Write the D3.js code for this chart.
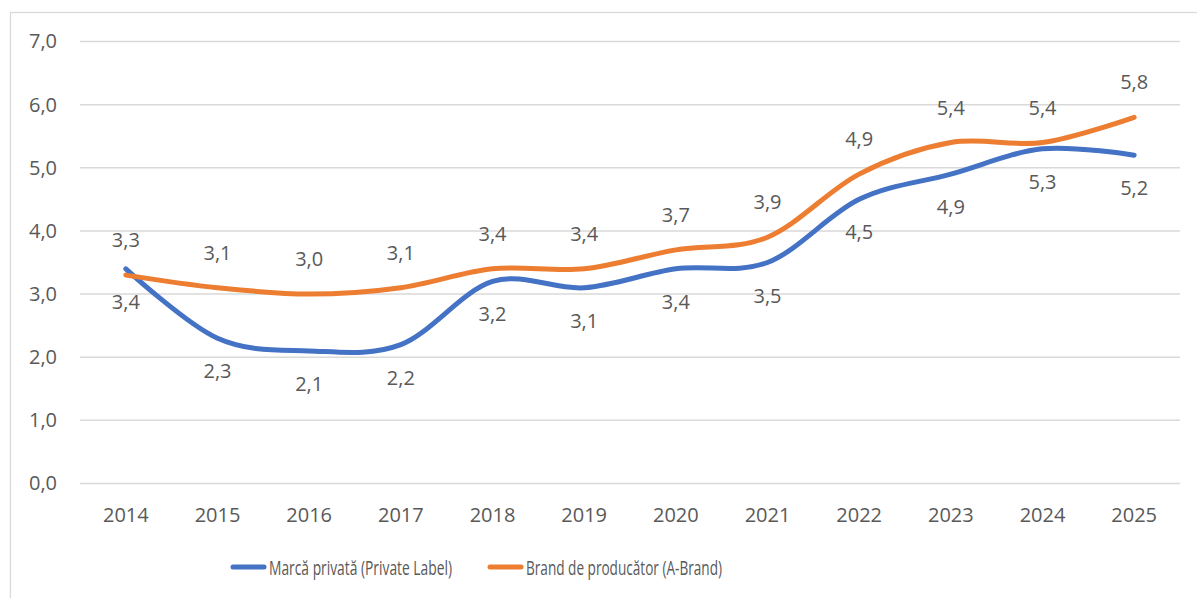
<!DOCTYPE html>
<html>
<head>
<meta charset="utf-8">
<script src="https://cdn.jsdelivr.net/npm/d3@7"></script>
<style>
  html, body { margin: 0; padding: 0; background: #fff; }
  svg { display: block; }
  text { font-family: "Open Sans", "Liberation Sans", sans-serif; fill: #595959; }
</style>
</head>
<body>
<svg id="chart" width="1197" height="598"></svg>
<script>
// Years on the category axis
const years = ["2014","2015","2016","2017","2018","2019","2020","2021","2022","2023","2024","2025"];
// Private label values
const privateLabel = [3.4, 2.3, 2.1, 2.2, 3.2, 3.1, 3.4, 3.5, 4.5, 4.9, 5.3, 5.2];
// Producer brand values
const aBrand = [3.3, 3.1, 3.0, 3.1, 3.4, 3.4, 3.7, 3.9, 4.9, 5.4, 5.4, 5.8];
// Y axis ticks
const yTicks = [0, 1, 2, 3, 4, 5, 6, 7];
const seriesNames = ["Marcă privată (Private Label)", "Brand de producător (A-Brand)"];
const colors = ["#4472C4", "#ED7D31"];

const svg = d3.select("#chart");
const fmt = v => d3.format(".1f")(v).replace(".", ",");
const FONT = '"Open Sans", "Liberation Sans", sans-serif';

// Outer chart frame
svg.append("rect")
  .attr("x", 10.5).attr("y", 12.5)
  .attr("width", 1300).attr("height", 700)
  .attr("fill", "none").attr("stroke", "#d9d9d9").attr("stroke-width", 1.3);

const x = d3.scaleBand().domain(years).range([80, 1180]);
const y = d3.scaleLinear().domain([0, 7]).range([483.5, 41.5]);
const cx = d => x(d) + x.bandwidth() / 2;

// Horizontal gridlines
svg.append("g").selectAll("line").data(yTicks).join("line")
  .attr("x1", 80).attr("x2", 1180)
  .attr("y1", d => y(d)).attr("y2", d => y(d))
  .attr("stroke", "#d9d9d9").attr("stroke-width", 1.5);

// Y axis labels
const yAxis = d3.axisLeft(y).tickValues(yTicks).tickFormat(fmt).tickSize(0).tickPadding(0);
const gy = svg.append("g").attr("transform", "translate(57,0)").call(yAxis);
gy.select(".domain").remove();
gy.selectAll("text").attr("font-size", 20).attr("fill", "#595959").style("font-family", FONT);

// X axis labels
const xAxis = d3.axisBottom(x).tickSize(0).tickPadding(0);
const gx = svg.append("g").attr("transform", "translate(0,507.5)").call(xAxis);
gx.select(".domain").remove();
gx.selectAll("text").attr("font-size", 20).attr("fill", "#595959").style("font-family", FONT);

const line = d3.line()
  .x((d, i) => cx(years[i]))
  .y(d => y(d))
  .curve(d3.curveCardinal.tension(0));

const series = [privateLabel, aBrand];
series.forEach((vals, s) => {
  svg.append("path")
    .datum(vals)
    .attr("d", line)
    .attr("fill", "none")
    .attr("stroke", colors[s])
    .attr("stroke-width", 5)
    .attr("stroke-linecap", "round")
    .attr("stroke-linejoin", "round");
});

// Value labels: producer brand above, private label below
const labelGroup = svg.append("g").attr("font-size", 20).attr("text-anchor", "middle");
labelGroup.selectAll("text.pl").data(privateLabel).join("text")
  .attr("class", "pl")
  .attr("x", (d, i) => cx(years[i]))
  .attr("y", d => y(d) + 40)
  .text(fmt);
labelGroup.selectAll("text.ab").data(aBrand).join("text")
  .attr("class", "ab")
  .attr("x", (d, i) => cx(years[i]))
  .attr("y", d => y(d) - 28)
  .text(fmt);

// Legend
const legendItems = [
  { name: seriesNames[0], color: colors[0], x: 231, w: 183 },
  { name: seriesNames[1], color: colors[1], x: 488, w: 196 }
];
const lg = svg.append("g");
legendItems.forEach(it => {
  lg.append("line")
    .attr("x1", it.x + 2).attr("x2", it.x + 33)
    .attr("y1", 567).attr("y2", 567)
    .attr("stroke", it.color).attr("stroke-width", 5).attr("stroke-linecap", "round");
  lg.append("text")
    .attr("x", it.x + 38).attr("y", 575)
    .attr("font-size", 20)
    .attr("textLength", it.w)
    .attr("lengthAdjust", "spacingAndGlyphs")
    .text(it.name);
});
</script>
</body>
</html>
